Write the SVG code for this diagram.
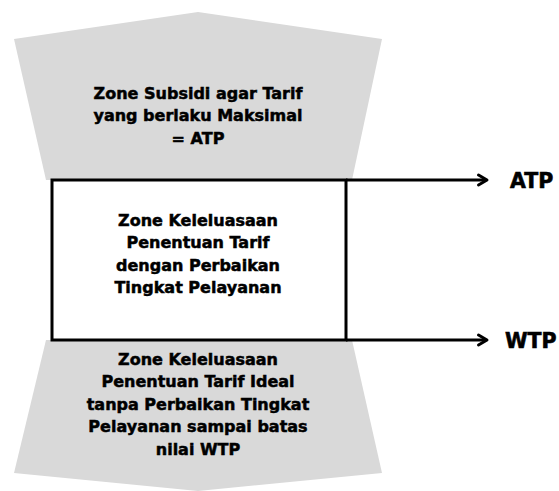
<svg xmlns="http://www.w3.org/2000/svg" width="559" height="491" viewBox="0 0 559 491">
<style>
.zone{fill:#d9d9d9;stroke:none}
.box{fill:#ffffff;stroke:#000000;stroke-width:3}
.t{font-family:"DejaVu Sans","Liberation Sans",sans-serif;font-weight:bold;font-size:16px;fill:#000000;stroke:#000000;stroke-width:0.5;text-anchor:middle}
.lbl{font-family:"DejaVu Sans","Liberation Sans",sans-serif;font-weight:bold;font-size:20.5px;fill:#000000;stroke:#000000;stroke-width:0.6}
.conn{stroke:#000000;stroke-width:3;fill:none}
.head{stroke:#000000;stroke-width:3;fill:none;stroke-linecap:round;stroke-linejoin:round}
</style>
<rect width="559" height="491" fill="#ffffff"/>
<g id="zone-atp">
<polygon class="zone" points="14,39 198,12 382,39 352,180 46,180"/>
<text class="t" x="198" y="98.5">Zone Subsidi agar Tarif</text>
<text class="t" x="198" y="121">yang berlaku Maksimal</text>
<text class="t" x="198" y="143.5">= ATP</text>
</g>
<g id="zone-wtp">
<polygon class="zone" points="46,340 352,340 382,473 198,491 14,473"/>
<text class="t" x="198" y="364.5">Zone Keleluasaan</text>
<text class="t" x="198" y="387">Penentuan Tarif Ideal</text>
<text class="t" x="198" y="409.5">tanpa Perbaikan Tingkat</text>
<text class="t" x="198" y="432">Pelayanan sampai batas</text>
<text class="t" x="198" y="454.5">nilai WTP</text>
</g>
<g id="zone-middle">
<rect class="box" x="52" y="180" width="294" height="160"/>
<text class="t" x="198" y="225.5">Zone Keleluasaan</text>
<text class="t" x="198" y="248">Penentuan Tarif</text>
<text class="t" x="198" y="270.5">dengan Perbaikan</text>
<text class="t" x="198" y="293">Tingkat Pelayanan</text>
</g>
<g id="connectors">
<line class="conn" x1="346" y1="180" x2="486" y2="180"/>
<polyline class="head" points="478.5,175 487,180 478.5,185"/>
<line class="conn" x1="346" y1="340" x2="486" y2="340"/>
<polyline class="head" points="478.5,335 487,340 478.5,345"/>
</g>
<g id="label-atp"><text class="lbl" x="510" y="188">ATP</text></g>
<g id="label-wtp"><text class="lbl" x="505" y="348">WTP</text></g>
</svg>
